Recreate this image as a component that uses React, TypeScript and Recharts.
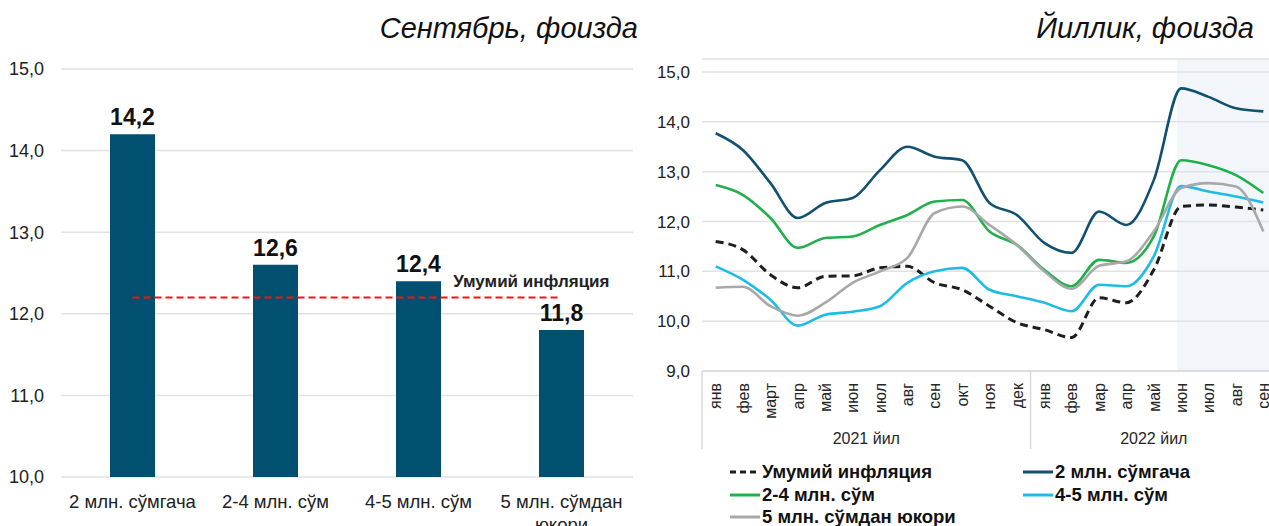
import React from 'react'
import {
	Bar,
	BarChart,
	CartesianGrid,
	LabelList,
	Line,
	LineChart,
	ReferenceArea,
	ReferenceLine,
	XAxis,
	YAxis,
} from 'recharts'

// left chart: September, by income group
const groups = ['2 млн. сўмгача', '2-4 млн. сўм', '4-5 млн. сўм', '5 млн. сўмдан\nюкори']
const septValues = [14.2, 12.6, 12.4, 11.8]
const overallInflation = 12.2

// right chart: annual, Jan 2021 .. Sep 2022
const months = [
	'янв', 'фев', 'март', 'апр', 'май', 'июн', 'июл', 'авг', 'сен', 'окт', 'ноя', 'дек',
	'янв', 'фев', 'мар', 'апр', 'май', 'июн', 'июл', 'авг', 'сен',
]
const years = ['2021 йил', '2022 йил']
const general = [11.6, 11.43, 10.93, 10.67, 10.9, 10.91, 11.07, 11.1, 10.77, 10.63, 10.3, 9.97, 9.83, 9.67, 10.47, 10.37, 11.03, 12.3, 12.33, 12.29, 12.23]
const upTo2 = [13.77, 13.43, 12.77, 12.07, 12.37, 12.47, 13.03, 13.5, 13.3, 13.23, 12.37, 12.13, 11.57, 11.37, 12.2, 11.93, 12.83, 14.67, 14.5, 14.27, 14.21]
const from2to4 = [12.73, 12.53, 12.07, 11.47, 11.67, 11.7, 11.93, 12.13, 12.4, 12.43, 11.8, 11.53, 11.03, 10.7, 11.23, 11.17, 11.7, 13.23, 13.13, 12.93, 12.57]
const from4to5 = [11.1, 10.83, 10.43, 9.91, 10.13, 10.19, 10.3, 10.77, 11.0, 11.07, 10.63, 10.5, 10.37, 10.2, 10.73, 10.7, 11.3, 12.71, 12.6, 12.5, 12.38]
const above5 = [10.67, 10.69, 10.3, 10.11, 10.37, 10.77, 11.0, 11.27, 12.17, 12.3, 11.93, 11.53, 11.0, 10.65, 11.11, 11.2, 11.8, 12.67, 12.77, 12.7, 11.8]

const series = [
	{ key: 'general', name: 'Умумий инфляция', values: general, color: '#1e1e1e', dash: '8 5' },
	{ key: 'upTo2', name: '2 млн. сўмгача', values: upTo2, color: '#12506f', dash: undefined },
	{ key: 'from2to4', name: '2-4 млн. сўм', values: from2to4, color: '#21b04b', dash: undefined },
	{ key: 'from4to5', name: '4-5 млн. сўм', values: from4to5, color: '#1fbbe7', dash: undefined },
	{ key: 'above5', name: '5 млн. сўмдан юкори', values: above5, color: '#a8a8a8', dash: undefined },
]

const FONT = '"Liberation Sans", Arial, sans-serif'
const fmt = (v: number) => v.toFixed(1).replace('.', ',')

const barData = groups.map((g, i) => ({ group: g, value: septValues[i] }))
const lineData = months.map((m, i) => {
	const row: Record<string, number | string> = { i, month: m }
	series.forEach(s => (row[s.key] = s.values[i]))
	return row
})

const monthTicks = months.map((_, i) => i)
const lastIdx = months.length - 1
// group boundaries and centres for the year row
const yearTicks = [-0.5, 5.5, 11.5, 16, lastIdx + 0.5]
const yearLabel: Record<string, string> = { '5.5': years[0], '16': years[1] }

const GroupTick = (p: any) => {
	const lines = String(p.payload.value).split('\n')
	return (
		<text x={p.x} y={p.y + 31} textAnchor='middle' fontSize={18.5} fill='#222' fontFamily={FONT}>
			{lines.map((l, k) => (
				<tspan key={k} x={p.x} dy={k === 0 ? 0 : 23}>
					{l}
				</tspan>
			))}
		</text>
	)
}

const MonthTick = (p: any) => (
	<text
		x={p.x}
		y={p.y}
		transform={`rotate(-90, ${p.x}, ${p.y})`}
		textAnchor='end'
		dy='0.36em'
		fontSize={16}
		fill='#262626'
		fontFamily={FONT}
	>
		{months[p.payload.value]}
	</text>
)

const YearTick = (p: any) => {
	const label = yearLabel[String(p.payload.value)]
	if (label) {
		return (
			<text x={p.x} y={p.y + 23} textAnchor='middle' fontSize={16} fill='#262626' fontFamily={FONT}>
				{label}
			</text>
		)
	}
	return <line x1={p.x} x2={p.x} y1={p.y - 50} y2={p.y + 28} stroke='#d9d9d9' strokeWidth={1.5} />
}

export default function App() {
	return (
		<div
			style={{
				position: 'fixed',
				left: 0,
				top: 0,
				width: 1269,
				height: 526,
				overflow: 'hidden',
				background: '#fff',
				fontFamily: FONT,
			}}
		>
			<div style={{ position: 'absolute', left: 0, top: 0 }}>
				<BarChart width={640} height={526} data={barData} margin={{ top: 69, right: 7, bottom: 0, left: 0 }}>
					<CartesianGrid vertical={false} stroke='#e2e2e2' strokeWidth={1.5} />
					<XAxis
						dataKey='group'
						height={49}
						axisLine={false}
						tickLine={false}
						tickSize={0}
						tickMargin={0}
						interval={0}
						tick={<GroupTick />}
					/>
					<YAxis
						width={61}
						domain={[10, 15]}
						ticks={[10, 11, 12, 13, 14, 15]}
						tickFormatter={fmt}
						axisLine={false}
						tickLine={false}
						tickMargin={11}
						tick={{ fontSize: 18, fill: '#222', fontFamily: FONT }}
					/>
					<Bar dataKey='value' fill='#02506f' barSize={45} isAnimationActive={false}>
						<LabelList
							dataKey='value'
							position='top'
							offset={9}
							formatter={(v: any) => fmt(Number(v))}
							style={{ fontSize: 23, fontWeight: 700, fill: '#111', fontFamily: FONT }}
						/>
					</Bar>
					<ReferenceLine
						segment={[
							{ x: groups[0], y: overallInflation },
							{ x: groups[groups.length - 1], y: overallInflation },
						]}
						stroke='#ff1010'
						strokeWidth={2}
						strokeDasharray='7 4'
						label={(props: any) => {
							const vb = props.viewBox || {}
							return (
								<text
									x={(vb.x ?? 0) + (vb.width ?? 0) + 48}
									y={(vb.y ?? 0) - 10}
									textAnchor='end'
									fontSize={17}
									fontWeight={700}
									fill='#222'
									fontFamily={FONT}
								>
									Умумий инфляция
								</text>
							)
						}}
					/>
				</BarChart>
			</div>

			<div style={{ position: 'absolute', left: 640, top: 0 }}>
				<LineChart width={640} height={449} data={lineData} margin={{ top: 59, right: 3, bottom: 0, left: 0 }}>
					<ReferenceArea
						xAxisId='m'
						x1={16.85}
						x2={lastIdx + 0.5}
						fill='#dbe5f3'
						fillOpacity={0.35}
						stroke='none'
						ifOverflow='extendDomain'
					/>
					<CartesianGrid vertical={false} stroke='#e2e2e2' strokeWidth={1.5} xAxisId='m' />
					<XAxis
						xAxisId='m'
						dataKey='i'
						type='number'
						domain={[-0.5, lastIdx + 0.5]}
						ticks={monthTicks}
						interval={0}
						height={50}
						axisLine={{ stroke: '#d9d9d9', strokeWidth: 1.5 }}
						tickLine={false}
						tickSize={0}
						tickMargin={12}
						tick={<MonthTick />}
					/>
					<XAxis
						xAxisId='y'
						dataKey='i'
						type='number'
						domain={[-0.5, lastIdx + 0.5]}
						ticks={yearTicks}
						interval={0}
						height={28}
						axisLine={false}
						tickLine={false}
						tickSize={0}
						tickMargin={0}
						tick={<YearTick />}
					/>
					<YAxis
						width={62}
						domain={[9, 15.26]}
						ticks={[9, 10, 11, 12, 13, 14, 15]}
						tickFormatter={fmt}
						axisLine={false}
						tickLine={false}
						tickMargin={6}
						tick={{ fontSize: 17, fill: '#222', fontFamily: FONT }}
					/>
					{series.map(s => (
						<Line
							key={s.key}
							xAxisId='m'
							dataKey={s.key}
							type='monotone'
							stroke={s.color}
							strokeWidth={s.dash ? 3 : 2.6}
							strokeDasharray={s.dash}
							dot={false}
							isAnimationActive={false}
						/>
					))}
				</LineChart>
			</div>

			<svg width={1269} height={526} style={{ position: 'absolute', left: 0, top: 0, pointerEvents: 'none' }}>
				<text x={638} y={38} textAnchor='end' fontSize={29} fontStyle='italic' fill='#111' fontFamily={FONT}>
					Сентябрь, фоизда
				</text>
				<text x={1254} y={38} textAnchor='end' fontSize={29} fontStyle='italic' fill='#111' fontFamily={FONT}>
					Йиллик, фоизда
				</text>
				{series.map((s, k) => {
					const x = [730, 1023][k % 2]
					const y = [478, 501, 523][Math.floor(k / 2)]
					return (
						<g key={s.key}>
							<line
								x1={x}
								x2={x + 30}
								y1={y - 6}
								y2={y - 6}
								stroke={s.color}
								strokeWidth={3}
								strokeDasharray={s.dash ? '6 4' : undefined}
							/>
							<text x={x + 32} y={y} fontSize={18.5} fontWeight={700} fill='#111' fontFamily={FONT}>
								{s.name}
							</text>
						</g>
					)
				})}
			</svg>
		</div>
	)
}
